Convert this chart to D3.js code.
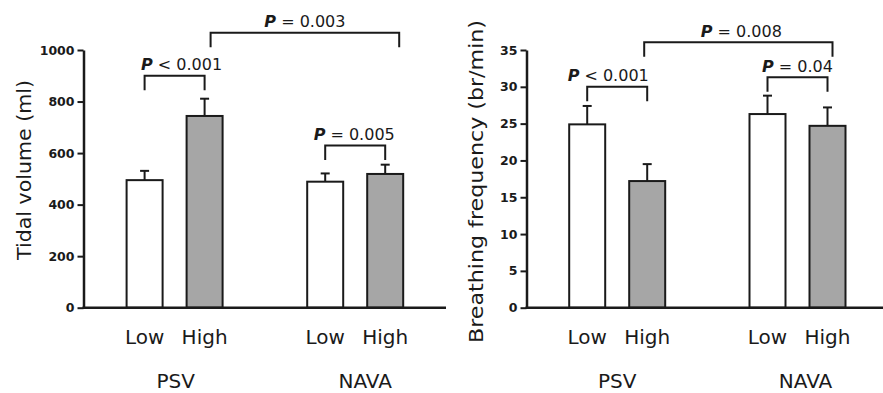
<!DOCTYPE html>
<html lang="en">
<head>
<meta charset="utf-8">
<title>Tidal volume and breathing frequency</title>
<script src="https://cdn.jsdelivr.net/npm/d3@7"></script>
<style>
  body { margin: 0; background: #fff; }
  svg { display: block; }
  .lbl { font-family: "Comic Sans MS", "DejaVu Sans", sans-serif; fill: #1a1a1a; white-space: pre; }
  .tick text { font-family: "DejaVu Sans", sans-serif; font-weight: bold; font-size: 12.5px; fill: #1a1a1a; }
</style>
</head>
<body>
<script>
var groups = ["PSV", "NAVA"];
var levels = ["Low", "High"];

// tidal volume (ml), one value per group
var tvLow = [495, 489];
var tvHigh = [744, 519];
var tvLowErr = [36, 32];
var tvHighErr = [67, 36];
var tvTicks = [0, 200, 400, 600, 800, 1000];

// breathing frequency (br/min)
var bfLow = [24.9, 26.3];
var bfHigh = [17.2, 24.7];
var bfLowErr = [2.5, 2.5];
var bfHighErr = [2.3, 2.5];
var bfTicks = [0, 5, 10, 15, 20, 25, 30, 35];

// significance brackets: ends, bracket height (in axis units), label
var tvStats = [
  {a: ["PSV", "Low"], b: ["PSV", "High"], y: 900, txt: "< 0.001"},
  {a: ["PSV", "High"], b: ["NAVA", "High"], y: 1067, txt: "= 0.003"},
  {a: ["NAVA", "Low"], b: ["NAVA", "High"], y: 629, txt: "= 0.005"}
];
var bfStats = [
  {a: ["PSV", "Low"], b: ["PSV", "High"], y: 30.0, txt: "< 0.001"},
  {a: ["PSV", "High"], b: ["NAVA", "High"], y: 36.05, txt: "= 0.008"},
  {a: ["NAVA", "Low"], b: ["NAVA", "High"], y: 31.3, txt: "= 0.04"}
];

var W = 883, H = 393;
var ink = "#1a1a1a";
var grey = "#a6a6a6";
var yTop = 50, yBottom = 307.7;
var barW = 36, legLen = 14.5;

var svg = d3.select("body").append("svg")
  .attr("width", W)
  .attr("height", H);

function drawPanel(p) {
  var g = svg.append("g");

  var y = d3.scaleLinear().domain([0, p.max]).range([yBottom, yTop]);
  var gx = d3.scalePoint().domain(groups).range(p.groupRange);
  var lx = d3.scalePoint().domain(levels).range([-30, 30]);
  var cx = function (grp, lev) { return gx(grp) + lx(lev); };

  var rows = [];
  groups.forEach(function (grp, i) {
    rows.push({grp: grp, lev: "Low", v: p.low[i], e: p.lowErr[i]});
    rows.push({grp: grp, lev: "High", v: p.high[i], e: p.highErr[i]});
  });

  // error bars (drawn first so the bar outline covers the stem foot)
  var eb = g.selectAll(".err").data(rows).enter().append("g");
  eb.append("line")
    .attr("x1", function (d) { return cx(d.grp, d.lev); })
    .attr("x2", function (d) { return cx(d.grp, d.lev); })
    .attr("y1", function (d) { return y(d.v); })
    .attr("y2", function (d) { return y(d.v + d.e); })
    .attr("stroke", ink).attr("stroke-width", 2);
  eb.append("line")
    .attr("x1", function (d) { return cx(d.grp, d.lev) - 4.5; })
    .attr("x2", function (d) { return cx(d.grp, d.lev) + 4.5; })
    .attr("y1", function (d) { return y(d.v + d.e); })
    .attr("y2", function (d) { return y(d.v + d.e); })
    .attr("stroke", ink).attr("stroke-width", 2);

  g.selectAll(".bar").data(rows).enter().append("rect")
    .attr("x", function (d) { return cx(d.grp, d.lev) - barW / 2; })
    .attr("y", function (d) { return y(d.v); })
    .attr("width", barW)
    .attr("height", function (d) { return y(0) - y(d.v); })
    .attr("fill", function (d) { return d.lev == "High" ? grey : "#fff"; })
    .attr("stroke", ink)
    .attr("stroke-width", 2);

  // axes
  var ax = g.append("g")
    .attr("transform", "translate(" + p.axisX + ",0)")
    .call(d3.axisLeft(y).tickValues(p.ticks).tickFormat(d3.format("d"))
      .tickSize(6).tickSizeOuter(0).tickPadding(3));
  ax.select(".domain").attr("stroke", ink).attr("stroke-width", 2.5);
  ax.selectAll(".tick line").attr("stroke", ink).attr("stroke-width", 2);

  g.append("line")
    .attr("x1", p.axisX - 1).attr("x2", p.axisEnd)
    .attr("y1", y(0)).attr("y2", y(0))
    .attr("stroke", ink).attr("stroke-width", 2.5);

  // category labels
  g.selectAll(".lev").data(rows).enter().append("text")
    .attr("class", "lbl")
    .attr("x", function (d) { return cx(d.grp, d.lev); })
    .attr("y", 344)
    .attr("text-anchor", "middle")
    .style("font-size", "20px")
    .text(function (d) { return d.lev; });

  g.selectAll(".grp").data(groups).enter().append("text")
    .attr("class", "lbl")
    .attr("x", function (d, i) { return gx(d) + p.groupDx[i]; })
    .attr("y", 387.5)
    .attr("text-anchor", "middle")
    .style("font-size", "20px")
    .text(function (d) { return d; });

  // y title
  g.append("text")
    .attr("class", "lbl")
    .attr("transform", "translate(" + p.titleX + "," + p.titleY + ") rotate(-90)")
    .attr("text-anchor", "middle")
    .attr("textLength", p.titleLen)
    .attr("lengthAdjust", "spacingAndGlyphs")
    .style("font-size", "20px")
    .text(p.title);

  // significance brackets
  p.stats.forEach(function (s, i) {
    var nd = p.nudge[i];
    var xa = cx(s.a[0], s.a[1]) + nd[0];
    var xb = cx(s.b[0], s.b[1]) + nd[1];
    var yy = y(s.y);
    g.append("path")
      .attr("d", "M" + xa + "," + (yy + legLen) + "V" + yy + "H" + xb + "V" + (yy + legLen))
      .attr("fill", "none")
      .attr("stroke", ink)
      .attr("stroke-width", 2);
    var t = g.append("text")
      .attr("class", "lbl")
      .attr("x", (xa + xb) / 2 + nd[2])
      .attr("y", yy - 5.5)
      .attr("text-anchor", "middle")
      .style("font-size", "16px");
    t.append("tspan").style("font-style", "italic").style("font-weight", "bold").text("P");
    t.append("tspan").text(" " + s.txt);
  });
}

drawPanel({
  max: 1000, ticks: tvTicks,
  low: tvLow, high: tvHigh, lowErr: tvLowErr, highErr: tvHighErr,
  axisX: 83.5, axisEnd: 446, groupRange: [174.6, 355.2], groupDx: [1, 10],
  title: "Tidal volume (ml)", titleX: 31, titleY: 170, titleLen: 180,
  stats: tvStats, nudge: [[0, 0, 7], [6, 14, 0], [0, 0, -1]]
});

drawPanel({
  max: 35, ticks: bfTicks,
  low: bfLow, high: bfHigh, lowErr: bfLowErr, highErr: bfHighErr,
  axisX: 526.5, axisEnd: 883, groupRange: [617.2, 797.5], groupDx: [0, 8],
  title: "Breathing frequency (br/min)", titleX: 483, titleY: 181.5, titleLen: 323,
  stats: bfStats, nudge: [[0, 0, -9], [-3, 5, 3], [0, 0, 0]]
});
</script>
</body>
</html>
